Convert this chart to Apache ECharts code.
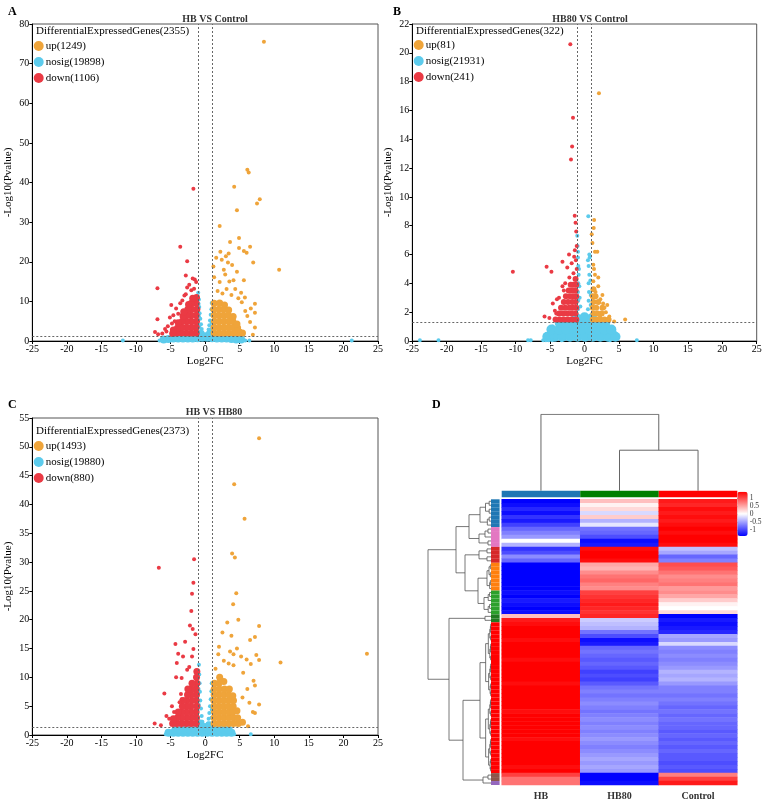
<!DOCTYPE html>
<html>
<head>
<meta charset="utf-8">
<script src="https://cdn.jsdelivr.net/npm/echarts@6/dist/echarts.min.js"></script>
<style>
  html, body { margin: 0; padding: 0; background: #fff; }
  #chart { width: 767px; height: 803px; }
</style>
</head>
<body>
<div id="chart"></div>
<script>
// ---- volcano data, values: [log2FC, -log10(p)] ----
const SERIF = "'Liberation Serif', 'Times New Roman', serif"
const UP = '#efa43a', NOSIG = '#5ccbec', DOWN = '#ea3a44'

// panel A : HB VS Control
const upPtsA = [[8.5,75.5],[6.1,43.2],[6.3,42.5],[4.2,38.9],[7.9,35.8],[7.5,34.7],[4.6,33.0],[2.1,29.0],[4.9,26.0],[3.6,25.0],
  [4.9,23.5],[6.5,23.8],[5.6,22.7],[6.0,22.3],[3.4,22.1],[10.7,18.0],[6.95,19.8],[5.6,15.3],[7.2,9.4],[7.2,7.1],[7.2,3.4],
  [5.75,11.0],[6.1,6.3],[4.35,13.1],[1.2,18.8],[1.3,16.1],[2.1,14.9],[3.5,15.0],[4.1,15.3],[3.1,13.1],[3.8,11.6],[2.4,20.5],
  [3.0,21.4],[2.7,18.0],[2.2,22.5],[1.6,21.0],[3.9,19.2],[4.6,17.5],[2.9,16.8],[1.8,12.6],[5.2,12.2],[6.6,8.2],[5.3,9.8],
  [6.5,4.8],[5.8,7.6],[5.1,2.6],[6.9,1.6],[3.3,19.8],[2.5,12.0],[4.8,10.8]]
const downPtsA = [[-1.7,38.4],[-3.6,23.8],[-2.6,20.1],[-2.8,16.5],[-1.5,15.5],[-1.3,14.9],[-6.9,13.3],[-2.6,13.5],[-2.0,12.8],
  [-4.9,9.1],[-6.9,5.5],[-7.25,2.3],[-6.8,1.7],[-5.1,5.9],[-5.4,3.7],[-4.4,5.0],[-3.9,6.9],[-3.3,10.2],[-3.0,11.5],[-2.3,14.2],
  [-1.8,15.8],[-4.2,8.2],[-4.6,6.5],[-5.8,3.0],[-6.2,1.9],[-3.6,9.5],[-2.8,11.8],[-1.6,13.2],[-5.6,2.4],[-4.8,4.4]]
const nosigPtsA = [[-11.9,0.1],[-6.6,0.1],[-6.2,0.1],[-5.8,0.1],[-5.4,0.1],[5.3,0.1],[5.8,0.1],[6.4,0.1],[21.2,0.1],
  [-1.0,12.2],[-0.9,10.5],[-0.85,8.6],[-0.8,7.0],[-0.7,5.6],[-0.6,4.2],[-0.5,3.0],[-0.4,2.2],[-0.95,9.4],[-0.9,6.2],[-0.85,3.6],
  [0.95,9.6],[0.9,8.0],[0.8,6.6],[0.7,5.2],[0.6,4.0],[0.5,2.9],[0.4,2.1],[0.95,4.6],[0.9,3.0],[-0.3,1.6],[0.3,1.5]]
const upCoreA = [[1.3,2.0],[1.3,3.5],[1.35,5.0],[1.3,6.5],[1.25,8.0],[1.3,9.5],[2.0,2.0],[2.0,3.5],[2.05,5.0],[1.95,6.5],
  [2.0,8.0],[2.1,9.6],[2.7,2.0],[2.7,3.5],[2.75,5.0],[2.65,6.5],[2.7,8.0],[2.8,9.1],[3.4,2.0],[3.4,3.5],[3.45,5.0],[3.35,6.5],
  [3.4,7.8],[4.1,2.0],[4.1,3.5],[4.0,5.0],[4.05,6.2],[4.8,2.0],[4.7,3.3],[4.6,4.3],[5.4,2.0]]
const downCoreA = [[-1.3,2.0],[-1.3,3.5],[-1.25,5.0],[-1.3,6.5],[-1.2,8.0],[-1.3,9.5],[-1.25,11.0],[-2.0,2.0],[-1.95,3.5],
  [-2.0,5.0],[-2.05,6.5],[-1.9,8.0],[-2.0,9.5],[-1.8,10.8],[-2.7,2.0],[-2.65,3.5],[-2.7,5.0],[-2.6,6.5],[-2.5,8.0],[-2.4,9.2],
  [-3.4,2.0],[-3.35,3.5],[-3.3,5.0],[-3.2,6.3],[-3.1,7.4],[-4.1,2.0],[-4.0,3.3],[-3.9,4.6],[-4.7,1.9],[-4.6,2.8]]
const nosigCoreA = [[-6.0,0.4],[-5.3,0.5],[-4.6,0.6],[-3.9,0.6],[-3.2,0.6],[-2.5,0.6],[-1.8,0.6],[-1.1,0.7],[-0.4,0.8],[0.3,0.8],
  [1.0,0.7],[1.7,0.6],[2.4,0.6],[3.1,0.6],[3.8,0.5],[4.5,0.4],[5.2,0.4],[-0.6,1.3],[0.0,1.2],[0.6,1.3],[-0.8,1.9],[0.8,1.9]]

// panel B : HB80 VS Control
const upPtsB = [[2.1,17.2],[1.4,8.4],[1.34,7.85],[1.05,7.4],[1.52,6.2],[1.86,6.2],[1.28,5.3],[1.38,5.0],[1.52,4.6],[1.28,4.15],
  [2.0,3.8],[2.6,3.2],[2.9,2.3],[2.25,1.7],[5.9,1.5],[4.3,1.35],[3.3,2.5],[3.1,2.0],[2.7,2.6],[1.6,3.4],[2.3,2.9],[1.15,6.8],
  [3.6,1.7],[2.0,4.4]]
const downPtsB = [[-2.06,20.6],[-1.67,15.5],[-1.8,13.5],[-1.96,12.6],[-1.42,8.7],[-1.2,7.6],[-1.13,6.6],[-2.25,6.0],[-1.5,5.85],
  [-3.2,5.5],[-1.86,5.4],[-5.5,5.15],[-4.8,4.8],[-10.4,4.8],[-2.5,5.1],[-1.13,5.0],[-5.8,1.7],[-3.2,3.8],[-3.0,3.5],[-4.6,2.6],
  [-4.3,2.1],[-4.1,1.9],[-1.3,8.2],[-1.6,4.7],[-2.2,4.4],[-3.7,3.0],[-2.8,4.0],[-1.4,6.3],[-1.25,5.6],[-4.0,2.9],[-3.5,2.3],[-5.1,1.6]]
const nosigPtsB = [[-23.9,0.05],[-21.2,0.05],[-8.2,0.05],[-7.8,0.05],[-6.0,0.05],[-5.6,0.05],[-5.2,0.05],[-4.7,0.05],[-3.3,0.05],
  [3.7,0.05],[7.6,0.05],[0.55,8.65],[-1.05,7.3],[0.7,6.0],[-1.0,6.6],[-0.95,5.8],[-0.9,5.2],[-0.85,4.6],[-0.9,4.0],[-0.95,3.4],
  [-0.9,2.8],[-0.95,2.2],[-0.7,3.0],[-0.75,3.8],[-0.6,2.4],[0.5,2.2],[0.6,2.8],[0.65,3.4],[0.6,4.0],[0.7,4.6],[0.6,5.2],
  [0.75,5.8],[0.9,2.5],[0.9,3.2],[0.85,4.2],[-0.8,5.0],[-0.95,6.2],[0.5,5.6],[-4.6,1.0],[4.4,0.6]]
const upCoreB = [[1.2,1.5],[1.7,1.5],[2.3,1.5],[2.9,1.5],[3.5,1.5],[1.3,1.9],[1.9,1.9],[2.5,1.9],[1.2,2.3],[1.7,2.3],[2.6,2.3],
  [1.3,2.7],[2.0,2.7],[1.2,3.1],[1.6,3.1],[1.3,3.6]]
const downCoreB = [[-1.2,1.5],[-1.8,1.5],[-2.4,1.5],[-3.0,1.5],[-3.6,1.5],[-4.2,1.5],[-1.3,1.9],[-1.9,1.9],[-2.5,1.9],[-3.1,1.9],
  [-3.7,1.9],[-1.2,2.3],[-1.7,2.3],[-2.2,2.3],[-2.8,2.3],[-3.4,2.3],[-1.3,2.7],[-1.8,2.7],[-2.4,2.7],[-3.0,2.7],[-1.2,3.1],
  [-1.6,3.1],[-2.1,3.1],[-2.7,3.1],[-1.3,3.5],[-1.8,3.5],[-2.3,3.5],[-1.2,3.9],[-1.6,3.9],[-2.0,3.9],[-1.3,4.3]]
const nosigCoreB = [[-5.4,0.3],[-4.3,0.3],[-3.2,0.3],[-2.1,0.3],[-1.0,0.3],[0.1,0.3],[1.2,0.3],[2.3,0.3],[3.4,0.3],[4.5,0.3],
  [-4.8,0.8],[-3.7,0.8],[-2.6,0.8],[-1.5,0.8],[-0.4,0.8],[0.7,0.8],[1.8,0.8],[2.9,0.8],[3.9,0.8],
  [-3.6,1.25],[-2.5,1.25],[-1.4,1.25],[-0.3,1.25],[0.8,1.25],[1.9,1.25],[3.0,1.25],[-1.2,1.6],[0.0,1.65],[1.1,1.6]]

// panel C : HB VS HB80
const upPtsC = [[7.8,51.5],[4.2,43.5],[5.7,37.5],[3.9,31.5],[4.3,30.8],[4.05,22.7],[4.5,24.6],[4.8,20],[7.8,18.9],[3.8,17.2],
  [6.5,16.5],[7.4,13.9],[23.4,14.1],[10.9,12.6],[7.8,13.0],[7.2,17.0],[6.0,13.1],[6.6,12.3],[7.0,9.4],[7.2,8.6],[7.8,5.3],
  [6.9,4.0],[7.2,3.8],[6.2,1.5],[4.1,14.0],[4.6,15.0],[5.2,13.6],[2.0,15.3],[1.9,14.0],[3.6,14.5],[2.7,12.9],[3.4,12.4],
  [4.1,12.1],[2.5,17.8],[3.2,19.5],[5.5,10.8],[6.1,8.0],[5.4,6.5],[6.4,5.6],[1.5,11.5]]
const downPtsC = [[-6.7,29],[-1.6,30.5],[-1.7,26.4],[-1.9,24.5],[-2.0,21.5],[-4.3,15.8],[-3.9,14.1],[-3.2,13.6],[-4.1,12.5],
  [-5.9,7.2],[-7.3,2.0],[-6.4,1.7],[-5.6,3.3],[-5.2,2.8],[-3.5,7.1],[-3.4,6.2],[-3.7,5.7],[-4.2,10.0],[-3.4,9.9],[-2.6,11.3],
  [-2.3,11.8],[-1.9,13.6],[-1.7,14.9],[-1.4,17.5],[-2.2,19.0],[-4.8,5.0],[-4.5,4.0],[-2.9,16.2],[-1.8,18.4]]
const nosigPtsC = [[-5.7,0.15],[-0.5,0.15],[4.2,0.15],[6.6,0.15],[-0.9,12.2],[-0.85,10.5],[-0.8,9.0],[-0.75,7.5],[-0.7,6.0],
  [-0.6,4.6],[-0.5,3.3],[-0.4,2.3],[-0.95,8.0],[-0.9,5.2],[0.95,9.0],[0.9,7.6],[0.8,6.2],[0.7,5.0],[0.6,3.8],[0.5,2.8],
  [0.4,2.0],[0.95,4.4],[0.9,3.0],[-0.3,1.7],[0.3,1.7]]
const upCoreC = [[1.3,2],[1.3,3],[1.35,4],[1.3,5],[1.25,6],[1.3,7],[1.3,8],[1.35,9],[2.0,2],[2.0,3],[2.05,4],[1.95,5],[2.0,6],
  [2.0,7],[2.05,8],[2.0,9],[2.1,10],[2.7,2],[2.7,3],[2.75,4],[2.65,5],[2.7,6],[2.7,7],[2.8,8],[2.7,9.3],[3.4,2],[3.4,3],
  [3.45,4],[3.35,5],[3.4,6],[3.4,7],[3.5,8],[4.1,2],[4.1,3],[4.0,4],[4.05,5],[4.1,6],[4.0,6.8],[4.8,2],[4.7,3],[4.6,4.2],[5.4,2.2]]
const downCoreC = [[-1.3,2],[-1.25,3],[-1.3,4],[-1.2,5],[-1.3,6],[-1.25,7],[-1.3,8],[-1.2,9],[-1.25,10],[-1.2,11],[-2.0,2],
  [-1.95,3],[-2.0,4],[-2.05,5],[-1.9,6],[-2.0,7],[-1.95,8],[-1.9,9],[-2.7,2],[-2.65,3],[-2.7,4],[-2.6,5],[-2.7,6],[-2.55,7],
  [-2.5,8],[-3.4,2],[-3.35,3],[-3.4,4],[-3.3,5],[-3.2,6],[-4.1,2],[-4.0,3],[-3.9,4],[-4.7,2],[-4.6,2.8]]
const nosigCoreC = [[-5.3,0.4],[-4.6,0.4],[-3.9,0.4],[-3.2,0.4],[-2.5,0.4],[-1.8,0.4],[-1.1,0.4],[-0.4,0.4],[0.3,0.4],[1.0,0.4],
  [1.7,0.4],[2.4,0.4],[3.1,0.4],[3.8,0.4],[-4.3,0.9],[-3.6,0.9],[-2.9,0.9],[-2.2,0.9],[-1.5,0.9],[-0.8,0.9],[-0.1,0.9],[0.6,0.9],
  [1.3,0.9],[2.0,0.9],[2.7,0.9],[3.4,0.9],[-0.5,1.5],[0.2,1.4],[0.6,1.7],[-0.7,2.0]]

const FC_CUT = 1, P_CUT = 1.3

// ---- heatmap data (row z-scores, top to bottom) ----
const heatCols = ['HB', 'HB80', 'Control']
const hbVals = [-1,-0.95,-0.85,-0.95,-0.8,-0.9,-0.75, -0.6,-0.5,-0.4,0.0,-0.3, -0.8,-0.7,-0.45,-0.6,
  -1,-1,-1,-1,-1,-1,-1, -0.95,-1,-0.9,-0.95,-1,-0.95, 0.25,0.9,
  0.95,1,1,1,0.95,1,1,1,1,0.95,1,1,1,1,1,0.95,1,1,1,1,1,1,0.95,1,1,1,1,1,1,0.95,1,1,1,1,1,1,0.95,1,
  0.75,0.55, 0.55]
const hb80Vals = [0.25,0.05,0.15,-0.15,0.2,-0.3,-0.1, -0.55,-0.6,-0.7,-0.95,-0.9, 0.95,1,1,0.95,
  0.35,0.3,0.45,0.55,0.6,0.5,0.45, 0.75,0.8,0.85,0.9,0.85,0.8, 0.85,-0.2,
  -0.25,-0.3,-0.55,-0.7,-0.95,-0.9,-0.6,-0.55,-0.6,-0.65,-0.6,-0.65,-0.75,-0.7,-0.75,-0.65,-0.55,-0.5,-0.55,-0.5,
  -0.45,-0.5,-0.55,-0.5,-0.45,-0.5,-0.45,-0.5,-0.45,-0.4,-0.45,-0.5,-0.45,-0.4,-0.35,-0.4,-0.35,-0.4,
  -1,-1, -0.95]
const ctrlVals = [0.9,0.85,0.95,0.9,0.95,0.9,0.95, 1,0.95,1,1,0.95, -0.25,-0.35,-0.6,-0.5,
  0.7,0.65,0.55,0.45,0.5,0.55,0.4, 0.45,0.35,0.2,0.05,0.0,0.15, -1,-0.9,
  -0.95,-0.9,-0.85,-0.35,-0.4,-0.15,-0.45,-0.5,-0.45,-0.5,-0.45,-0.4,-0.3,-0.35,-0.3,-0.4,-0.5,-0.5,-0.55,-0.5,
  -0.55,-0.6,-0.55,-0.6,-0.55,-0.6,-0.6,-0.65,-0.6,-0.65,-0.6,-0.65,-0.6,-0.65,-0.65,-0.7,-0.65,-0.7,
  0.5,0.75, 0.9]

// row clusters (counts of rows), colours and inner tree heights
const clusterRows = [7, 5, 4, 7, 6, 2, 38, 2, 1]
const clusterColors = ['#1f77b4', '#e377c2', '#d62728', '#ff7f0e', '#2ca02c', '#217a21', '#ff0000', '#8c564b', '#9467bd']
const clusterHeights = [11, 12, 12, 4, 7, 6, 11, 3, 0]
// linkage between clusters: [a, b, height], new nodes numbered from 9
const rowMerges = [[7, 8, 8], [3, 4, 13], [0, 1, 22], [2, 10, 26], [11, 12, 35], [6, 9, 28], [5, 14, 42], [13, 15, 63]]
// column linkage
const colColors = ['#1f77b4', '#008000', '#ff0000']
const colMerges = [[1, 2, 0.53], [0, 3, 1.0]]

// ---- build ----
const nRows = hbVals.length
const rowIds = hbVals.map((_, i) => String(i))
const heatData = []
;[hbVals, hb80Vals, ctrlVals].forEach((col, c) => col.forEach((v, r) => heatData.push([c, r, v])))

const rowColors = []
clusterRows.forEach((n, k) => { for (let i = 0; i < n; i++) rowColors.push(clusterColors[k]) })

function subtree(r0, n, H, N, segs) {
  if (n === 1) return { y: r0 + 0.5, h: 0 }
  const k = Math.ceil(n / 2)
  const a = subtree(r0, k, H, N, segs)
  const b = subtree(r0 + k, n - k, H, N, segs)
  const h = H * (n - 1) / (N - 1)
  segs.push([[a.h, a.y], [h, a.y], [h, b.y], [b.h, b.y]])
  return { y: (a.y + b.y) / 2, h }
}
const rowSegs = []
const rowNodes = []
let start = 0
clusterRows.forEach((n, k) => { rowNodes.push(subtree(start, n, clusterHeights[k], n, rowSegs)); start += n })
rowMerges.forEach(([i, j, h]) => {
  const a = rowNodes[i], b = rowNodes[j]
  rowSegs.push([[a.h, a.y], [h, a.y], [h, b.y], [b.h, b.y]])
  rowNodes.push({ y: (a.y + b.y) / 2, h })
})
const colNodes = heatCols.map((_, i) => ({ x: i, h: 0 }))
const colSegs = []
colMerges.forEach(([i, j, h]) => {
  const a = colNodes[i], b = colNodes[j]
  colSegs.push([[a.x, a.h], [a.x, h], [b.x, h], [b.x, b.h]])
  colNodes.push({ x: (a.x + b.x) / 2, h })
})

const panels = [
  { grid: { left: 32.3, top: 24, width: 345.7, height: 317 }, ymax: 80, yint: 10,
    letter: 'A', letterPos: [8, 6], title: 'HB VS Control', titlePos: [215, 14],
    total: 'DifferentialExpressedGenes(2355)', totalPos: [36, 26], legendPos: [33.7, 40],
    names: ['up(1249)', 'nosig(19898)', 'down(1106)'],
    up: upPtsA, nosig: nosigPtsA, down: downPtsA, upCore: upCoreA, nosigCore: nosigCoreA, downCore: downCoreA, core: 7, nsCore: 8 },
  { grid: { left: 412.3, top: 24, width: 344.4, height: 317 }, ymax: 22, yint: 2,
    letter: 'B', letterPos: [393, 6], title: 'HB80 VS Control', titlePos: [590, 14],
    total: 'DifferentialExpressedGenes(322)', totalPos: [416, 26], legendPos: [413.7, 39],
    names: ['up(81)', 'nosig(21931)', 'down(241)'],
    up: upPtsB, nosig: nosigPtsB, down: downPtsB, upCore: upCoreB, nosigCore: nosigCoreB, downCore: downCoreB, core: 6, nsCore: 10 },
  { grid: { left: 32.3, top: 418, width: 345.7, height: 317 }, ymax: 55, yint: 5,
    letter: 'C', letterPos: [8, 399], title: 'HB VS HB80', titlePos: [214, 407],
    total: 'DifferentialExpressedGenes(2373)', totalPos: [36, 425.5], legendPos: [33.7, 440],
    names: ['up(1493)', 'nosig(19880)', 'down(880)'],
    up: upPtsC, nosig: nosigPtsC, down: downPtsC, upCore: upCoreC, nosigCore: nosigCoreC, downCore: downCoreC, core: 7, nsCore: 8 }
]

const grids = [], xAxes = [], yAxes = [], series = [], titles = [], legends = []
const plain = { show: false }

panels.forEach((p, gi) => {
  grids.push(Object.assign({ show: true, borderColor: '#555', borderWidth: 1 }, p.grid))
  xAxes.push({
    gridIndex: gi, type: 'value', min: -25, max: 25, interval: 5,
    name: 'Log2FC', nameLocation: 'middle', nameGap: 15,
    nameTextStyle: { fontFamily: SERIF, fontSize: 11, color: '#000' },
    axisLine: { onZero: false, lineStyle: { color: '#000' } },
    axisTick: { length: 3, lineStyle: { color: '#000' } },
    axisLabel: { fontFamily: SERIF, fontSize: 10, color: '#000', margin: 3 },
    splitLine: plain
  })
  yAxes.push({
    gridIndex: gi, type: 'value', min: 0, max: p.ymax, interval: p.yint,
    name: '-Log10(Pvalue)', nameLocation: 'middle', nameGap: 19, nameRotate: 90,
    nameTextStyle: { fontFamily: SERIF, fontSize: 11, color: '#000' },
    axisLine: { show: true, onZero: false, lineStyle: { color: '#000' } },
    axisTick: { show: true, length: 3, lineStyle: { color: '#000' } },
    axisLabel: { fontFamily: SERIF, fontSize: 10, color: '#000', margin: 3 },
    splitLine: plain
  })
  const [nUp, nNo, nDown] = p.names
  const sc = (name, color, data, size, extra) => Object.assign({
    type: 'scatter', name, xAxisIndex: gi, yAxisIndex: gi, data, symbolSize: size,
    itemStyle: { color, opacity: 1 }, silent: true
  }, extra || {})
  series.push(sc(nNo, NOSIG, p.nosigCore, p.nsCore))
  series.push(sc(nNo, NOSIG, p.nosig, 4))
  series.push(sc(nDown, DOWN, p.downCore, p.core))
  series.push(sc(nDown, DOWN, p.down, 4))
  series.push(sc(nUp, UP, p.upCore, p.core))
  series.push(sc(nUp, UP, p.up, 4, {
    markLine: {
      silent: true, symbol: ['none', 'none'], label: { show: false },
      lineStyle: { color: '#666', type: [2, 2], width: 1 },
      data: [{ xAxis: -FC_CUT }, { xAxis: FC_CUT }, { yAxis: P_CUT }]
    }
  }))
  titles.push({ text: p.letter, left: p.letterPos[0], top: p.letterPos[1], padding: 0,
    textStyle: { fontFamily: SERIF, fontSize: 12, fontWeight: 'bold', color: '#000' } })
  titles.push({ text: p.title, left: p.titlePos[0], top: p.titlePos[1], textAlign: 'center', padding: 0,
    textStyle: { fontFamily: SERIF, fontSize: 10, fontWeight: 'bold', color: '#333' } })
  titles.push({ text: p.total, left: p.totalPos[0], top: p.totalPos[1], padding: 0,
    textStyle: { fontFamily: SERIF, fontSize: 11, fontWeight: 'normal', color: '#000' } })
  legends.push({
    left: p.legendPos[0], top: p.legendPos[1], orient: 'vertical', padding: 0,
    itemWidth: 10, itemHeight: 10, itemGap: 4, icon: 'circle', selectedMode: false,
    textStyle: { fontFamily: SERIF, fontSize: 11, color: '#000', lineHeight: 12, padding: [0, 0, 0, -3] },
    data: [nUp, nNo, nDown]
  })
})

// panel D grids: 3 heatmap, 4 row strip, 5 column bar, 6 column tree, 7 row tree, 8 colour key axis
const HM = { left: 501.7, top: 499.3, width: 235.6, height: 285.7 }
grids.push(HM)
grids.push({ left: 491, top: HM.top, width: 8.6, height: HM.height })
grids.push({ left: HM.left, top: 490.7, width: HM.width, height: 6.6 })
grids.push({ left: HM.left, top: 414.3, width: HM.width, height: 76.4 })
grids.push({ left: 425, top: HM.top, width: 66, height: HM.height })
grids.push({ left: 737.3, top: 498.3, width: 10.4, height: 31.7 })

xAxes.push({ gridIndex: 3, type: 'category', data: heatCols, axisLine: plain, axisTick: plain,
  axisLabel: { fontFamily: SERIF, fontSize: 10, fontWeight: 'bold', color: '#333', margin: 6 } })
yAxes.push({ gridIndex: 3, type: 'category', data: rowIds, inverse: true, show: false })
xAxes.push({ gridIndex: 4, type: 'value', min: 0, max: 1, show: false })
yAxes.push({ gridIndex: 4, type: 'category', data: rowIds, inverse: true, show: false })
xAxes.push({ gridIndex: 5, type: 'category', data: heatCols, show: false })
yAxes.push({ gridIndex: 5, type: 'value', min: 0, max: 1, show: false })
xAxes.push({ gridIndex: 6, type: 'value', min: -0.5, max: heatCols.length - 0.5, show: false })
yAxes.push({ gridIndex: 6, type: 'value', min: 0, max: 1, show: false })
xAxes.push({ gridIndex: 7, type: 'value', min: 0, max: 66, inverse: true, show: false })
yAxes.push({ gridIndex: 7, type: 'value', min: 0, max: nRows, inverse: true, show: false })
xAxes.push({ gridIndex: 8, type: 'value', show: false })
yAxes.push({ gridIndex: 8, type: 'value', min: -1, max: 1, interval: 0.5, position: 'right',
  axisLine: plain, splitLine: plain, axisTick: { show: true, length: 2, lineStyle: { color: '#333' } },
  axisLabel: { fontFamily: SERIF, fontSize: 7.5, color: '#333', margin: 2 } })

const heatIndex = series.length
series.push({ type: 'heatmap', xAxisIndex: 3, yAxisIndex: 3, data: heatData, silent: true })
series.push({ type: 'bar', xAxisIndex: 4, yAxisIndex: 4, barCategoryGap: '0%', silent: true,
  data: rowColors.map(c => ({ value: 1, itemStyle: { color: c } })) })
series.push({ type: 'bar', xAxisIndex: 5, yAxisIndex: 5, barCategoryGap: '0%', silent: true,
  data: colColors.map(c => ({ value: 1, itemStyle: { color: c } })) })
series.push({ type: 'lines', coordinateSystem: 'cartesian2d', xAxisIndex: 6, yAxisIndex: 6, polyline: true, silent: true,
  lineStyle: { color: '#666', width: 1, opacity: 1 }, data: colSegs.map(c => ({ coords: c })) })
series.push({ type: 'lines', coordinateSystem: 'cartesian2d', xAxisIndex: 7, yAxisIndex: 7, polyline: true, silent: true,
  lineStyle: { color: '#555', width: 0.8, opacity: 1 }, data: rowSegs.map(c => ({ coords: c })) })

titles.push({ text: 'D', left: 432, top: 399, padding: 0,
  textStyle: { fontFamily: SERIF, fontSize: 12, fontWeight: 'bold', color: '#000' } })

const chart = echarts.init(document.getElementById('chart'), null, { renderer: 'canvas' })
chart.setOption({
  animation: false,
  backgroundColor: '#fff',
  title: titles,
  legend: legends,
  grid: grids,
  xAxis: xAxes,
  yAxis: yAxes,
  visualMap: {
    type: 'continuous', min: -1, max: 1, seriesIndex: heatIndex, calculable: false, hoverLink: false,
    left: 737.3, top: 491.7, itemWidth: 10.4, itemHeight: 44.3, padding: 0, text: null, showLabel: false,
    inRange: { color: ['#0000ff', '#ffffff', '#ff0000'] }
  },
  series
})
</script>
</body>
</html>
